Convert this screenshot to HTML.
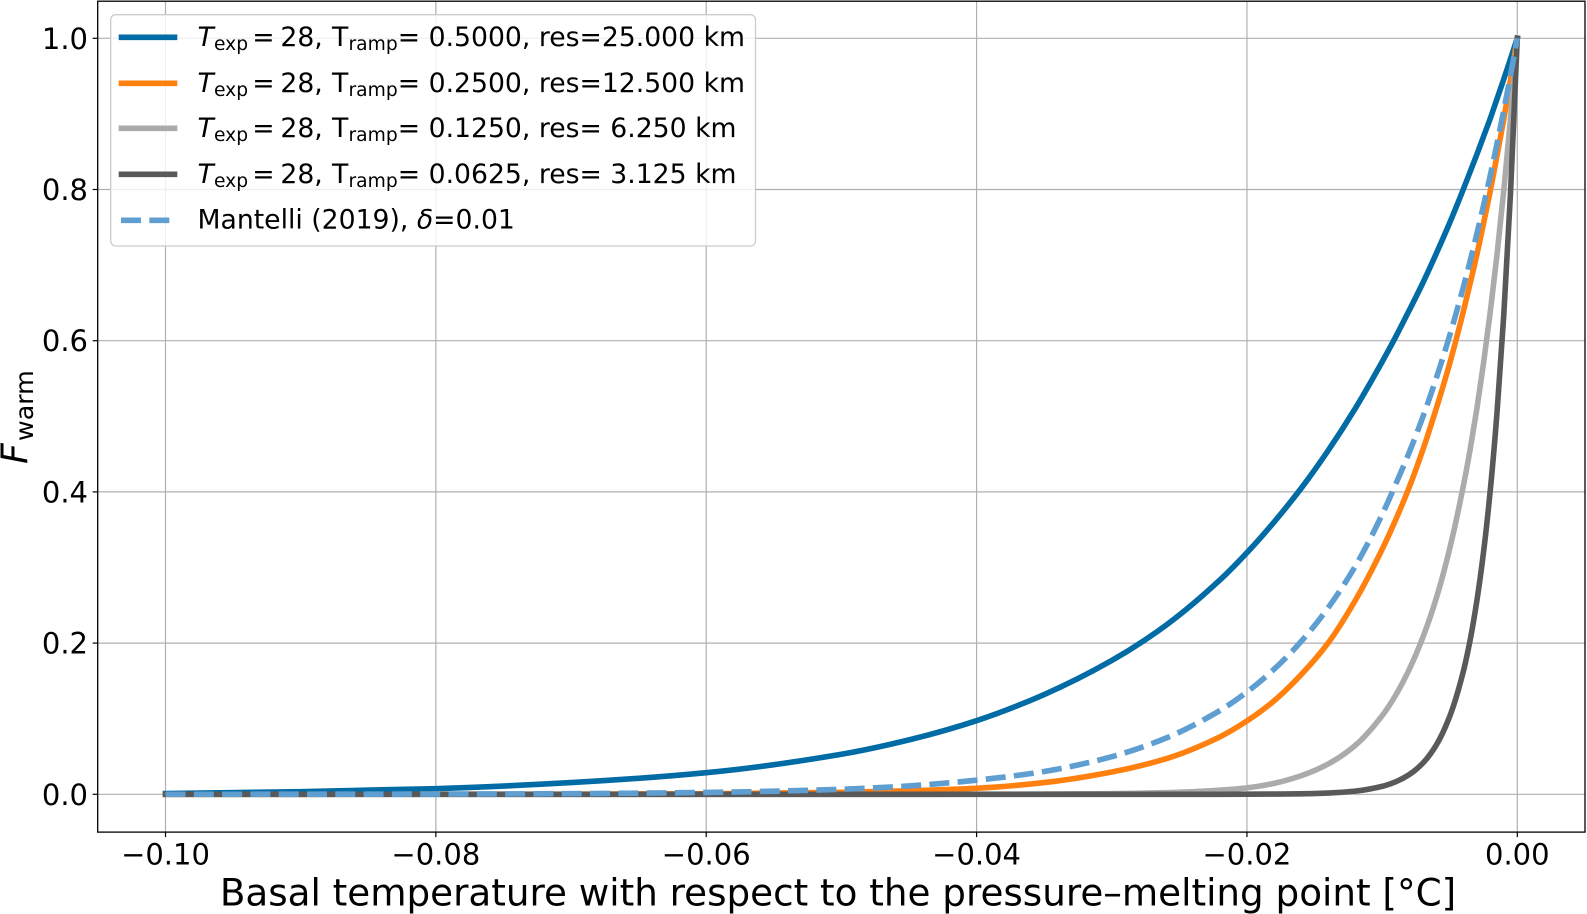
<!DOCTYPE html>
<html lang="en">
<head>
<meta charset="utf-8">
<title>Fwarm versus basal temperature</title>
<style>
  html, body { margin: 0; padding: 0; background: #fff; }
  svg { display: block; }
  text { font-family: "DejaVu Sans", "Liberation Sans", sans-serif; fill: #000; white-space: pre; }
  .tick-label { font-size: 29px; }
  .leg { font-size: 26.67px; }
  .leg-sub { font-size: 18.7px; }
  .it { font-style: italic; }
</style>
</head>
<body>
<svg id="chart" xmlns="http://www.w3.org/2000/svg" width="1587" height="914" viewBox="0 0 1587 914">
  <rect x="0" y="0" width="1587" height="914" fill="#fff"/>
  <g id="grid"></g>
  <g id="series"></g>
  <rect x="97.7" y="1.2" width="1487.3" height="830.9" fill="none" stroke="#000" stroke-width="1.3"/>
  <g id="ticks"></g>

  <g>
    <rect x="110.7" y="14.7" width="644.8" height="231.3" rx="5" ry="5" fill="#fff" fill-opacity="0.8" stroke="#cccccc" stroke-width="1.3"/>

    <g>
      <line x1="118.7" x2="177.3" y1="37.3" y2="37.3" stroke="#006BA4" stroke-width="5.6"/>
      <text class="leg it" x="197.5" y="46">T</text>
      <text class="leg-sub" x="214" y="50">exp</text>
      <text class="leg" y="46"><tspan x="252.2">=</tspan><tspan x="280.4">28,</tspan></text>
      <text class="leg" x="332" y="46">T</text>
      <text class="leg-sub" x="348.5" y="50">ramp</text>
      <text class="leg" x="397.8" y="46">= 0.5000, res=25.000 km</text>
    </g>
    <g>
      <line x1="118.7" x2="177.3" y1="83.3" y2="83.3" stroke="#FF800E" stroke-width="5.6"/>
      <text class="leg it" x="197.5" y="92">T</text>
      <text class="leg-sub" x="214" y="96">exp</text>
      <text class="leg" y="92"><tspan x="252.2">=</tspan><tspan x="280.4">28,</tspan></text>
      <text class="leg" x="332" y="92">T</text>
      <text class="leg-sub" x="348.5" y="96">ramp</text>
      <text class="leg" x="397.8" y="92">= 0.2500, res=12.500 km</text>
    </g>
    <g>
      <line x1="118.7" x2="177.3" y1="128.3" y2="128.3" stroke="#ABABAB" stroke-width="5.6"/>
      <text class="leg it" x="197.5" y="137">T</text>
      <text class="leg-sub" x="214" y="141">exp</text>
      <text class="leg" y="137"><tspan x="252.2">=</tspan><tspan x="280.4">28,</tspan></text>
      <text class="leg" x="332" y="137">T</text>
      <text class="leg-sub" x="348.5" y="141">ramp</text>
      <text class="leg" x="397.8" y="137">= 0.1250, res= 6.250 km</text>
    </g>
    <g>
      <line x1="118.7" x2="177.3" y1="174.3" y2="174.3" stroke="#595959" stroke-width="5.6"/>
      <text class="leg it" x="197.5" y="183">T</text>
      <text class="leg-sub" x="214" y="187">exp</text>
      <text class="leg" y="183"><tspan x="252.2">=</tspan><tspan x="280.4">28,</tspan></text>
      <text class="leg" x="332" y="183">T</text>
      <text class="leg-sub" x="348.5" y="187">ramp</text>
      <text class="leg" x="397.8" y="183">= 0.0625, res= 3.125 km</text>
    </g>
    <g>
      <line x1="121" x2="177.3" y1="220.3" y2="220.3" stroke="#5F9ED1" stroke-width="5.6" stroke-dasharray="20 8.3"/>
      <text class="leg" x="197.5" y="228.5">Mantelli (2019), <tspan class="it">δ</tspan>=0.01</text>
    </g>
  </g>

  <text x="838" y="905.5" text-anchor="middle" font-size="37.28">Basal temperature with respect to the pressure–melting point [°C]</text>
  <g>
    <text transform="translate(27,464) rotate(-90)" font-size="36.1" font-style="italic">F</text>
    <text transform="translate(33,441) rotate(-90)" font-size="25.3">warm</text>
  </g>
</svg>

<script>
// Chart data
const temperatures = [-0.100,-0.090,-0.080,-0.070,-0.060,-0.050,-0.045,-0.040,-0.035,-0.030,-0.026,-0.022,-0.020,-0.018,-0.016,-0.014,-0.012,-0.010,-0.009,-0.008,-0.007,-0.006,-0.005,-0.004,-0.0035,-0.003,-0.0025,-0.002,-0.0015,-0.001,-0.0005,0];
const fwarmRes25 = [0.001,0.0035,0.0075,0.0155,0.0286,0.053,0.072,0.0974,0.132,0.177,0.2235,0.2835,0.3196,0.36,0.4045,0.4545,0.51,0.572,0.605,0.64,0.676,0.715,0.756,0.8,0.823,0.846,0.87,0.894,0.92,0.946,0.973,1];
const fwarmRes12 = [0,0,0.0001,0.0002,0.0007,0.0026,0.0047,0.008,0.0155,0.0295,0.047,0.076,0.097,0.1235,0.158,0.2,0.256,0.324,0.363,0.406,0.455,0.51,0.57,0.638,0.675,0.713,0.755,0.798,0.845,0.893,0.945,1];
const fwarmRes6 = [0,0,0,0,0,0,0,0.0001,0.0003,0.0009,0.0022,0.0055,0.0085,0.0145,0.0245,0.04,0.0645,0.104,0.131,0.165,0.207,0.259,0.325,0.407,0.455,0.509,0.57,0.638,0.714,0.799,0.894,1];
const fwarmRes3 = [0,0,0,0,0,0,0,0,0,0,0,0,0.0001,0.0003,0.0006,0.0016,0.0042,0.0105,0.0165,0.026,0.041,0.065,0.103,0.162,0.203,0.255,0.32,0.402,0.505,0.634,0.796,1];
const fwarmMantelli = [0.00005,0.0001,0.0003,0.0009,0.0025,0.0067,0.0111,0.0187,0.0302,0.0498,0.0743,0.1108,0.1353,0.1653,0.2019,0.2466,0.3012,0.37,0.41,0.452,0.4985,0.55,0.607,0.6703,0.7047,0.7408,0.7788,0.8187,0.8607,0.9048,0.9512,1];
const xTickValues = [-0.10,-0.08,-0.06,-0.04,-0.02,0.00];
const xTickLabels = ["−0.10","−0.08","−0.06","−0.04","−0.02","0.00"];
const yTickValues = [0.0,0.2,0.4,0.6,0.8,1.0];
const yTickLabels = ["0.0","0.2","0.4","0.6","0.8","1.0"];

const SVG_NS = "http://www.w3.org/2000/svg";
const xAxis = t => 165.5 + (t + 0.1) * 13518;
const yAxis = v => 794.3 - v * 756;
const plotLeft = 97.7, plotRight = 1585, plotTop = 1.2, plotBottom = 832.1;

function make(tag, attrs, parent) {
  const el = document.createElementNS(SVG_NS, tag);
  for (const k in attrs) el.setAttribute(k, attrs[k]);
  parent.appendChild(el);
  return el;
}

// Monotone cubic path (weighted harmonic tangents) through the data points
function monotonePath(xs, ys) {
  const n = xs.length;
  const h = [];
  const s = [];
  for (let i = 0; i < n - 1; i++) {
    h.push(xs[i + 1] - xs[i]);
    s.push((ys[i + 1] - ys[i]) / h[i]);
  }
  const m = new Array(n).fill(0);
  for (let i = 1; i < n - 1; i++) {
    if (s[i - 1] * s[i] > 0) {
      m[i] = 3 * (h[i - 1] + h[i]) / ((2 * h[i] + h[i - 1]) / s[i - 1] + (h[i] + 2 * h[i - 1]) / s[i]);
    }
  }
  m[0] = (3 * s[0] - m[1]) / 2;
  m[n - 1] = (3 * s[n - 2] - m[n - 2]) / 2;
  let d = "M" + xs[0].toFixed(2) + "," + ys[0].toFixed(2);
  for (let i = 0; i < n - 1; i++) {
    const c = h[i] / 3;
    d += "C" + (xs[i] + c).toFixed(2) + "," + (ys[i] + m[i] * c).toFixed(2) + " " +
         (xs[i + 1] - c).toFixed(2) + "," + (ys[i + 1] - m[i + 1] * c).toFixed(2) + " " +
         xs[i + 1].toFixed(2) + "," + ys[i + 1].toFixed(2);
  }
  return d;
}

const gridGroup = document.getElementById("grid");
const tickGroup = document.getElementById("ticks");
const seriesGroup = document.getElementById("series");

xTickValues.forEach((v, i) => {
  const x = xAxis(v);
  const g = make("line", {x1: x, x2: x, y1: plotTop, y2: plotBottom, stroke: "#b0b0b0", "stroke-width": 1.2}, gridGroup);
  
  
  const t = make("line", {x1: x, x2: x, y1: plotBottom, y2: plotBottom + 5, stroke: "#000", "stroke-width": 1.2}, tickGroup);
  
  
  const l = make("text", {x: x, y: 864.3, "text-anchor": "middle", class: "tick-label"}, tickGroup);
  l.textContent = xTickLabels[i];
  
  
});

yTickValues.forEach((v, i) => {
  const y = yAxis(v);
  const g = make("line", {x1: plotLeft, x2: plotRight, y1: y, y2: y, stroke: "#b0b0b0", "stroke-width": 1.2}, gridGroup);
  
  
  const t = make("line", {x1: plotLeft - 5, x2: plotLeft, y1: y, y2: y, stroke: "#000", "stroke-width": 1.2}, tickGroup);
  
  
  const l = make("text", {x: 88, y: y + 10.5, "text-anchor": "end", class: "tick-label"}, tickGroup);
  l.textContent = yTickLabels[i];
  
  
});

function drawSeries(values, color, dashed) {
  const attrs = {
    d: monotonePath(temperatures.map(xAxis), values.map(yAxis)),
    fill: "none",
    stroke: color,
    "stroke-width": 5.6,
    "stroke-linejoin": "round",
    "stroke-linecap": dashed ? "butt" : "square"
  };
  if (dashed) attrs["stroke-dasharray"] = "20 8.3";
  return make("path", attrs, seriesGroup);
}

const lineRes25 = drawSeries(fwarmRes25, "#006BA4", false);


const lineRes12 = drawSeries(fwarmRes12, "#FF800E", false);


const lineRes6 = drawSeries(fwarmRes6, "#ABABAB", false);


const lineRes3 = drawSeries(fwarmRes3, "#595959", false);


const lineMantelli = drawSeries(fwarmMantelli, "#5F9ED1", true);


</script>
</body>
</html>
